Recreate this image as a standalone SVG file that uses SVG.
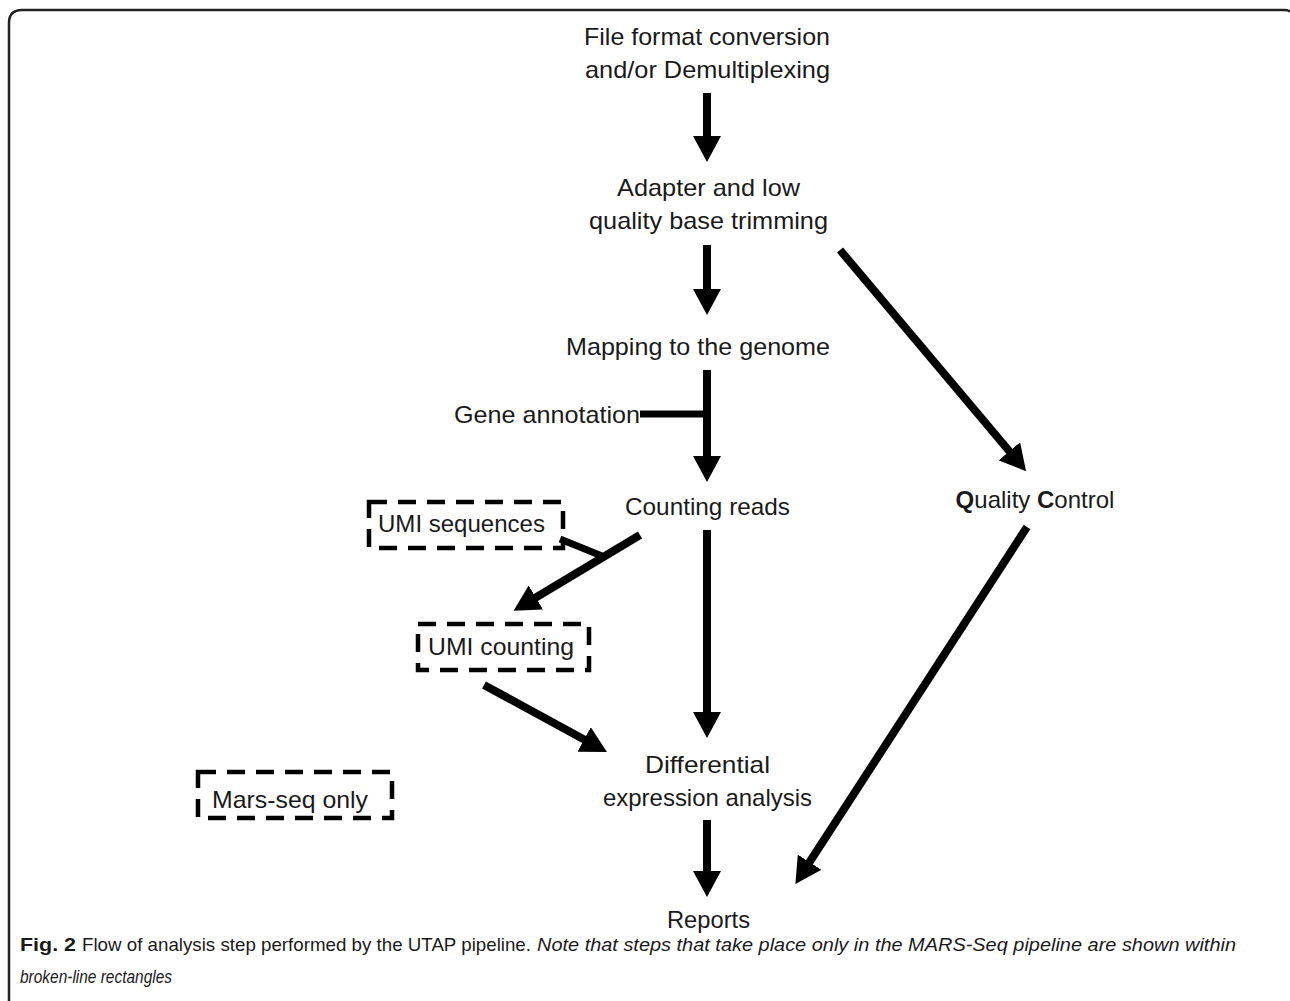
<svg xmlns="http://www.w3.org/2000/svg" width="1290" height="1001" viewBox="0 0 1290 1001">
<style>
.t{font-family:"Liberation Sans",Arial,sans-serif;font-size:24px;fill:#1a1a1a}
.c{font-family:"Liberation Sans",Arial,sans-serif;font-size:19px;fill:#1a1a1a}
.box{fill:none;stroke:#000;stroke-width:4.5;stroke-dasharray:18 11}
.arr{stroke:#000;stroke-width:8;fill:none;marker-end:url(#ah)}
.br{stroke:#000;stroke-width:7;fill:none}
</style>
<defs>
<marker id="ah" viewBox="0 0 26 28" refX="1" refY="14" markerWidth="26" markerHeight="28" markerUnits="userSpaceOnUse" orient="auto">
<path d="M0,0 L26,14 L0,28 z" fill="#000"/>
</marker>
</defs>
<rect width="1290" height="1001" fill="#fff"/>
<path d="M9,1001 V23 Q9,10 22,10 H1284 Q1289,10 1290,12" fill="none" stroke="#222" stroke-width="2.5"/>

<g id="n-format">
<text class="t" x="584" y="45" textLength="246" lengthAdjust="spacingAndGlyphs">File format conversion</text>
<text class="t" x="585" y="78" textLength="245" lengthAdjust="spacingAndGlyphs">and/or Demultiplexing</text>
</g>
<g id="n-trim">
<text class="t" x="617" y="196" textLength="183" lengthAdjust="spacingAndGlyphs">Adapter and low</text>
<text class="t" x="589" y="229" textLength="239" lengthAdjust="spacingAndGlyphs">quality base trimming</text>
</g>
<g id="n-map">
<text class="t" x="566" y="355" textLength="264" lengthAdjust="spacingAndGlyphs">Mapping to the genome</text>
</g>
<g id="n-gene">
<text class="t" x="454" y="423" textLength="186" lengthAdjust="spacingAndGlyphs">Gene annotation</text>
</g>
<g id="n-count">
<text class="t" x="625" y="515" textLength="165" lengthAdjust="spacingAndGlyphs">Counting reads</text>
</g>
<g id="n-qc">
<text class="t" x="1035" y="508" text-anchor="middle"><tspan font-weight="bold">Q</tspan>uality <tspan font-weight="bold">C</tspan>ontrol</text>
</g>
<g id="n-umiseq">
<rect class="box" x="369" y="502" width="194" height="46"/>
<text class="t" x="378" y="532" textLength="167" lengthAdjust="spacingAndGlyphs">UMI sequences</text>
</g>
<g id="n-umicount">
<rect class="box" x="418" y="624" width="171" height="46"/>
<text class="t" x="428" y="655" textLength="146" lengthAdjust="spacingAndGlyphs">UMI counting</text>
</g>
<g id="n-de">
<text class="t" x="645" y="773" textLength="125" lengthAdjust="spacingAndGlyphs">Differential</text>
<text class="t" x="603" y="806" textLength="209" lengthAdjust="spacingAndGlyphs">expression analysis</text>
</g>
<g id="n-reports">
<text class="t" x="667" y="928" textLength="83" lengthAdjust="spacingAndGlyphs">Reports</text>
</g>
<g id="n-legend">
<rect class="box" x="198" y="772" width="194" height="46"/>
<text class="t" x="212" y="808" textLength="156" lengthAdjust="spacingAndGlyphs">Mars-seq only</text>
</g>

<g id="connectors">
<line class="arr" x1="707" y1="93" x2="707" y2="137"/>
<line class="arr" x1="707" y1="245" x2="707" y2="290"/>
<line class="arr" x1="707" y1="370" x2="707" y2="457"/>
<line class="br" x1="640" y1="414" x2="707" y2="414"/>
<line class="arr" x1="707" y1="530" x2="707" y2="713"/>
<line class="arr" x1="707" y1="820" x2="707" y2="872"/>
<line class="arr" x1="840" y1="250" x2="1010" y2="452"/>
<line class="arr" x1="1027" y1="527" x2="809" y2="863"/>
<line class="arr" x1="640" y1="535" x2="535" y2="598"/>
<line class="br" x1="560" y1="539" x2="602" y2="556"/>
<line class="arr" x1="484" y1="685" x2="585" y2="740"/>
</g>

<g id="caption">
<text class="c" x="20" y="951" font-weight="bold" textLength="56" lengthAdjust="spacingAndGlyphs">Fig. 2</text>
<text class="c" x="82" y="951" textLength="449" lengthAdjust="spacingAndGlyphs">Flow of analysis step performed by the UTAP pipeline.</text>
<text class="c" x="537" y="951" font-style="italic" textLength="699" lengthAdjust="spacingAndGlyphs">Note that steps that take place only in the MARS-Seq pipeline are shown within</text>
<text class="c" x="20" y="983" font-style="italic" textLength="152" lengthAdjust="spacingAndGlyphs">broken-line rectangles</text>
</g>
</svg>
